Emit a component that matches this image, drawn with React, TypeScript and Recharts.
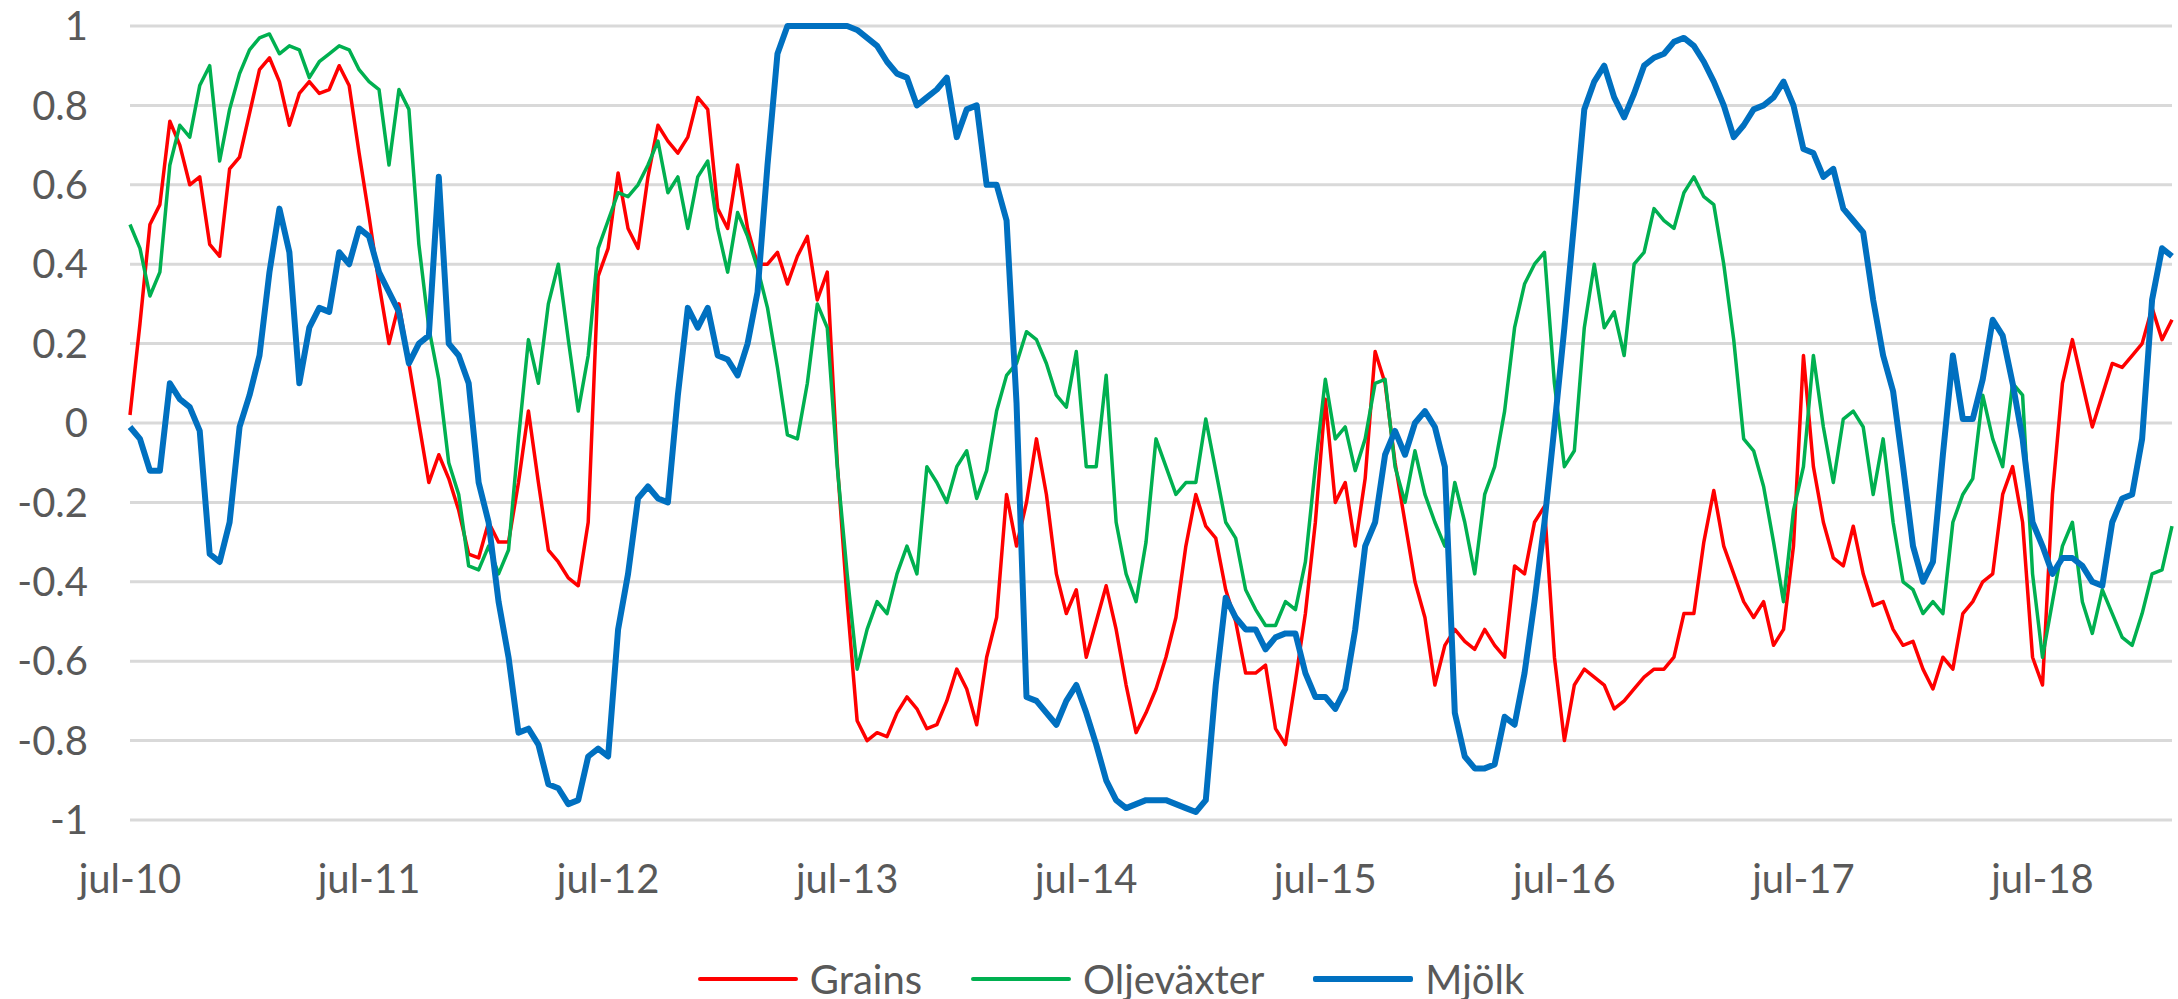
import { LineChart, Line, XAxis, YAxis, CartesianGrid, Legend } from "recharts";

// semimonthly readings from jul-10 onwards
const grains = [
  0.02, 0.25, 0.5, 0.55, 0.76, 0.7, 0.6, 0.62, 0.45, 0.42,
  0.64, 0.67, 0.78, 0.89, 0.92, 0.86, 0.75, 0.83, 0.86, 0.83,
  0.84, 0.9, 0.85, 0.68, 0.52, 0.35, 0.2, 0.3, 0.15, 0.0,
  -0.15, -0.08, -0.14, -0.22, -0.33, -0.34, -0.25, -0.3, -0.3, -0.15,
  0.03, -0.15, -0.32, -0.35, -0.39, -0.41, -0.25, 0.37, 0.44, 0.63,
  0.49, 0.44, 0.62, 0.75, 0.71, 0.68, 0.72, 0.82, 0.79, 0.54,
  0.49, 0.65, 0.49, 0.4, 0.4, 0.43, 0.35, 0.42, 0.47, 0.31,
  0.38, -0.1, -0.45, -0.75, -0.8, -0.78, -0.79, -0.73, -0.69, -0.72,
  -0.77, -0.76, -0.7, -0.62, -0.67, -0.76, -0.59, -0.49, -0.18, -0.31,
  -0.2, -0.04, -0.18, -0.38, -0.48, -0.42, -0.59, -0.5, -0.41, -0.52,
  -0.66, -0.78, -0.73, -0.67, -0.59, -0.49, -0.31, -0.18, -0.26, -0.29,
  -0.42, -0.5, -0.63, -0.63, -0.61, -0.77, -0.81, -0.65, -0.48, -0.25,
  0.06, -0.2, -0.15, -0.31, -0.14, 0.18, 0.1, -0.1, -0.25, -0.4,
  -0.49, -0.66, -0.56, -0.52, -0.55, -0.57, -0.52, -0.56, -0.59, -0.36,
  -0.38, -0.25, -0.21, -0.59, -0.8, -0.66, -0.62, -0.64, -0.66, -0.72,
  -0.7, -0.67, -0.64, -0.62, -0.62, -0.59, -0.48, -0.48, -0.3, -0.17,
  -0.31, -0.38, -0.45, -0.49, -0.45, -0.56, -0.52, -0.31, 0.17, -0.11,
  -0.25, -0.34, -0.36, -0.26, -0.38, -0.46, -0.45, -0.52, -0.56, -0.55,
  -0.62, -0.67, -0.59, -0.62, -0.48, -0.45, -0.4, -0.38, -0.18, -0.11,
  -0.25, -0.59, -0.66, -0.18, 0.1, 0.21, 0.1, -0.01, 0.07, 0.15,
  0.14, 0.17, 0.2, 0.29, 0.21, 0.26,
];

const oljevaxter = [
  0.5, 0.44, 0.32, 0.38, 0.65, 0.75, 0.72, 0.85, 0.9, 0.66,
  0.79, 0.88, 0.94, 0.97, 0.98, 0.93, 0.95, 0.94, 0.87, 0.91,
  0.93, 0.95, 0.94, 0.89, 0.86, 0.84, 0.65, 0.84, 0.79, 0.45,
  0.24, 0.11, -0.1, -0.18, -0.36, -0.37, -0.31, -0.38, -0.32, -0.04,
  0.21, 0.1, 0.3, 0.4, 0.21, 0.03, 0.17, 0.44, 0.51, 0.58,
  0.57, 0.6, 0.65, 0.71, 0.58, 0.62, 0.49, 0.62, 0.66, 0.49,
  0.38, 0.53, 0.47, 0.39, 0.29, 0.14, -0.03, -0.04, 0.1, 0.3,
  0.24, -0.11, -0.38, -0.62, -0.52, -0.45, -0.48, -0.38, -0.31, -0.38,
  -0.11, -0.15, -0.2, -0.11, -0.07, -0.19, -0.12, 0.03, 0.12, 0.15,
  0.23, 0.21, 0.15, 0.07, 0.04, 0.18, -0.11, -0.11, 0.12, -0.25,
  -0.38, -0.45, -0.3, -0.04, -0.11, -0.18, -0.15, -0.15, 0.01, -0.12,
  -0.25, -0.29, -0.42, -0.47, -0.51, -0.51, -0.45, -0.47, -0.35, -0.11,
  0.11, -0.04, -0.01, -0.12, -0.04, 0.1, 0.11, -0.11, -0.2, -0.07,
  -0.18, -0.25, -0.31, -0.15, -0.25, -0.38, -0.18, -0.11, 0.03, 0.24,
  0.35, 0.4, 0.43, 0.1, -0.11, -0.07, 0.24, 0.4, 0.24, 0.28,
  0.17, 0.4, 0.43, 0.54, 0.51, 0.49, 0.58, 0.62, 0.57, 0.55,
  0.4, 0.21, -0.04, -0.07, -0.16, -0.3, -0.45, -0.22, -0.11, 0.17,
  -0.01, -0.15, 0.01, 0.03, -0.01, -0.18, -0.04, -0.25, -0.4, -0.42,
  -0.48, -0.45, -0.48, -0.25, -0.18, -0.14, 0.07, -0.04, -0.11, 0.1,
  0.07, -0.38, -0.59, -0.45, -0.31, -0.25, -0.45, -0.53, -0.42, -0.48,
  -0.54, -0.56, -0.48, -0.38, -0.37, -0.26,
];

const mjolk = [
  -0.01, -0.04, -0.12, -0.12, 0.1, 0.06, 0.04, -0.02, -0.33, -0.35,
  -0.25, -0.01, 0.07, 0.17, 0.38, 0.54, 0.43, 0.1, 0.24, 0.29,
  0.28, 0.43, 0.4, 0.49, 0.47, 0.38, 0.33, 0.28, 0.15, 0.2,
  0.22, 0.62, 0.2, 0.17, 0.1, -0.15, -0.25, -0.45, -0.59, -0.78,
  -0.77, -0.81, -0.91, -0.92, -0.96, -0.95, -0.84, -0.82, -0.84, -0.52,
  -0.38, -0.19, -0.16, -0.19, -0.2, 0.07, 0.29, 0.24, 0.29, 0.17,
  0.16, 0.12, 0.2, 0.33, 0.65, 0.93, 1.0, 1.0, 1.0, 1.0,
  1.0, 1.0, 1.0, 0.99, 0.97, 0.95, 0.91, 0.88, 0.87, 0.8,
  0.82, 0.84, 0.87, 0.72, 0.79, 0.8, 0.6, 0.6, 0.51, 0.05,
  -0.69, -0.7, -0.73, -0.76, -0.7, -0.66, -0.73, -0.81, -0.9, -0.95,
  -0.97, -0.96, -0.95, -0.95, -0.95, -0.96, -0.97, -0.98, -0.95, -0.66,
  -0.44, -0.49, -0.52, -0.52, -0.57, -0.54, -0.53, -0.53, -0.63, -0.69,
  -0.69, -0.72, -0.67, -0.52, -0.31, -0.25, -0.08, -0.02, -0.08, 0.0,
  0.03, -0.01, -0.11, -0.73, -0.84, -0.87, -0.87, -0.86, -0.74, -0.76,
  -0.63, -0.45, -0.25, -0.01, 0.24, 0.51, 0.79, 0.86, 0.9, 0.82,
  0.77, 0.83, 0.9, 0.92, 0.93, 0.96, 0.97, 0.95, 0.91, 0.86,
  0.8, 0.72, 0.75, 0.79, 0.8, 0.82, 0.86, 0.8, 0.69, 0.68,
  0.62, 0.64, 0.54, 0.51, 0.48, 0.31, 0.17, 0.08, -0.11, -0.31,
  -0.4, -0.35, -0.08, 0.17, 0.01, 0.01, 0.11, 0.26, 0.22, 0.1,
  -0.04, -0.25, -0.31, -0.38, -0.34, -0.34, -0.36, -0.4, -0.41, -0.25,
  -0.19, -0.18, -0.04, 0.31, 0.44, 0.42,
];

// months since jul-10 where the year labels go
const xTicks = [0, 12, 24, 36, 48, 60, 72, 84, 96];
const xTickLabels = ["jul-10", "jul-11", "jul-12", "jul-13", "jul-14", "jul-15", "jul-16", "jul-17", "jul-18"];
const yTicks = [-1, -0.8, -0.6, -0.4, -0.2, 0, 0.2, 0.4, 0.6, 0.8, 1];

const series = [
  { key: "grains", name: "Grains", color: "#FF0000", width: 3.5, legendWidth: 4 },
  { key: "oljevaxter", name: "Oljeväxter", color: "#00B050", width: 3.5, legendWidth: 4 },
  { key: "mjolk", name: "Mjölk", color: "#0070C0", width: 6, legendWidth: 6 },
];

const data = grains.map((g, i) => ({
  m: i / 2,
  grains: g,
  oljevaxter: oljevaxter[i],
  mjolk: mjolk[i],
}));

const font = "Lato, 'Open Sans', sans-serif";
const textColor = "#595959";

const renderLegend = () => (
  <div style={{ display: "flex", justifyContent: "center", alignItems: "center", height: 40, paddingLeft: 50 }}>
    {series.map((s, idx) => (
      <div key={s.key} style={{ display: "flex", alignItems: "center", marginLeft: idx ? 49 : 0 }}>
        <div style={{ width: 100, height: s.legendWidth, background: s.color, borderRadius: 2 }} />
        <span style={{ marginLeft: 12, fontSize: 40, lineHeight: "40px", color: textColor, fontFamily: font }}>
          {s.name}
        </span>
      </div>
    ))}
  </div>
);

export default function App() {
  return (
    <div style={{ position: "absolute", left: 0, top: 0, background: "#fff", fontFamily: font }}>
      <LineChart width={2178} height={999} data={data} margin={{ top: 26, right: 6, bottom: 0, left: 0 }}>
        <CartesianGrid vertical={false} stroke="#D9D9D9" strokeWidth={3} />
        <XAxis
          type="number"
          dataKey="m"
          domain={[0, 102.5]}
          ticks={xTicks}
          interval={0}
          tickFormatter={(v: number) => xTickLabels[xTicks.indexOf(v)]}
          height={139}
          tickSize={0}
          tickMargin={45}
          axisLine={false}
          tickLine={false}
          tick={{ fill: textColor, fontSize: 40, fontFamily: font }}
        />
        <YAxis
          type="number"
          domain={[-1, 1]}
          ticks={yTicks}
          interval={0}
          width={130}
          tickSize={0}
          tickMargin={42}
          axisLine={false}
          tickLine={false}
          tick={{ fill: textColor, fontSize: 40, fontFamily: font }}
        />
        <Legend verticalAlign="bottom" content={renderLegend} />
        {series.map((s) => (
          <Line
            key={s.key}
            type="linear"
            dataKey={s.key}
            name={s.name}
            stroke={s.color}
            strokeWidth={s.width}
            dot={false}
            strokeLinejoin="round"
            isAnimationActive={false}
          />
        ))}
      </LineChart>
    </div>
  );
}
